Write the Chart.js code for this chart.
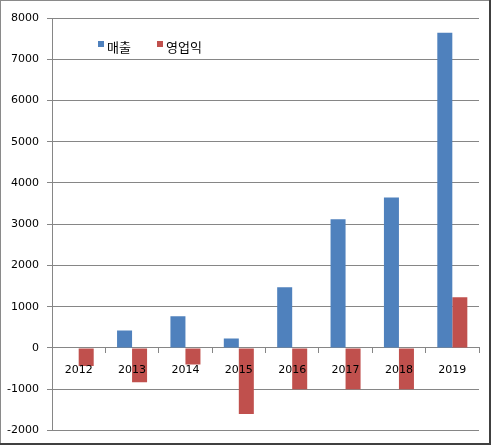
<!DOCTYPE html>
<html>
<head>
<meta charset="utf-8">
<script src="https://cdn.jsdelivr.net/npm/chart.js@4/dist/chart.umd.min.js"></script>
<style>
html,body{margin:0;padding:0;background:#fff;}
#wrap{width:491px;height:445px;position:relative;}
canvas{display:block;}
</style>
</head>
<body>
<div id="wrap"><canvas id="c" width="491" height="445"></canvas></div>
<script>
const categories = ['2012','2013','2014','2015','2016','2017','2018','2019'];
const salesLabel = '매출';
const profitLabel = '영업익';
const sales = [0, 420, 770, 230, 1470, 3120, 3650, 7640];
const profit = [-440, -830, -400, -1600, -1000, -1000, -1000, 1230];
const yMin = -2000, yMax = 8000, yStep = 1000;

const gridColor = '#868686';

const legendPlugin = {
  id: 'insideLegend',
  afterDraw(chart) {
    const ctx = chart.ctx;
    ctx.save();
    ctx.font = '13px "Noto Sans CJK KR", sans-serif';
    ctx.textBaseline = 'middle';
    let x = 98;
    const y = 46;
    chart.data.datasets.forEach((ds, i) => {
      ctx.fillStyle = ds.backgroundColor;
      ctx.fillRect(x, y - 5, 6, 6);
      ctx.fillStyle = '#000';
      ctx.fillText(ds.label, x + 9, y + 1);
      x += 59;
    });
    ctx.restore();
  }
};

const framePlugin = {
  id: 'frame',
  afterDraw(chart) {
    const ctx = chart.ctx;
    const w = chart.width, h = chart.height;
    ctx.save();
    ctx.fillStyle = '#8a8a8a';
    ctx.fillRect(0, 0, w, 1);
    ctx.fillRect(0, 0, 1, h);
    ctx.fillStyle = '#404040';
    ctx.fillRect(w - 2, 0, 2, h);
    ctx.fillRect(0, h - 2, w, 2);
    ctx.restore();
  }
};

new Chart(document.getElementById('c'), {
  type: 'bar',
  data: {
    labels: categories,
    datasets: [
      { label: salesLabel, data: sales, backgroundColor: '#4F81BD', borderWidth: 0 },
      { label: profitLabel, data: profit, backgroundColor: '#C0504D', borderWidth: 0 }
    ]
  },
  options: {
    responsive: false,
    animation: false,
    devicePixelRatio: 1,
    layout: { padding: { left: 0, right: 12, top: 18, bottom: 14 } },
    datasets: { bar: { barPercentage: 1.0, categoryPercentage: 0.5625 } },
    plugins: { legend: { display: false }, tooltip: { enabled: false } },
    scales: {
      x: {
        position: { y: 0 },
        grid: { drawOnChartArea: false, drawTicks: true, tickLength: 5, color: gridColor, offset: true },
        border: { display: true, color: gridColor },
        ticks: { color: '#000', font: { family: 'DejaVu Sans', size: 11 }, padding: 11, maxRotation: 0, z: 1 }
      },
      y: {
        min: yMin, max: yMax,
        afterFit(scale) { scale.width = 52; },
        grid: { color: gridColor, tickLength: 5, drawTicks: true },
        border: { display: true, color: gridColor },
        ticks: { stepSize: yStep, color: '#000', font: { family: 'DejaVu Sans', size: 11 }, padding: 8,
                 callback: (v) => String(v) }
      }
    }
  },
  plugins: [legendPlugin, framePlugin]
});
</script>
</body>
</html>
